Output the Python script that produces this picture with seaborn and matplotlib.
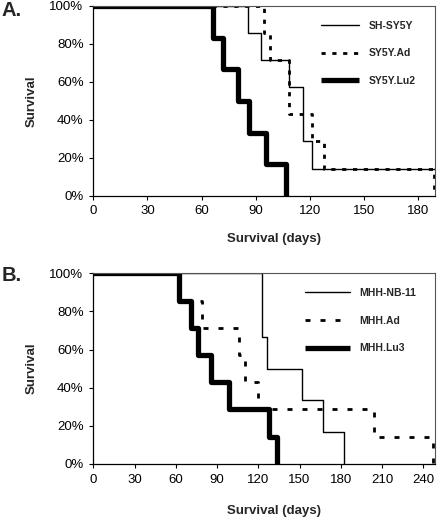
import matplotlib
matplotlib.use('Agg')
import matplotlib.pyplot as plt
import seaborn as sns
import pandas as pd
from matplotlib.ticker import FuncFormatter

sns.set_theme(style='ticks')
plt.rcParams['font.family'] = ['Liberation Sans', 'DejaVu Sans']

# Panel A: Kaplan-Meier steps (days, % surviving); last point = end of follow-up
a_names = ['SH-SY5Y', 'SY5Y.Ad', 'SY5Y.Lu2']
a_days = [
    [0, 85.5, 93, 108.5, 116, 121, 189],
    [0, 94.5, 98, 108.5, 121, 127.5, 188.5],
    [0, 66, 72, 80, 86, 95.5, 106.5],
]
a_surv = [
    [100, 85.7, 71.4, 57.1, 28.6, 14.3, 14.3],
    [100, 85.7, 71.4, 42.9, 28.6, 14.3, 0],
    [100, 83.3, 66.7, 50, 33.3, 16.7, 0],
]

# Panel B
b_names = ['MHH-NB-11', 'MHH.Ad', 'MHH.Lu3']
b_days = [
    [0, 123, 126, 151.5, 167, 182.5],
    [0, 62.5, 79, 106, 110, 120, 204.5, 247],
    [0, 62.5, 71, 76, 85.5, 99, 128, 133.5],
]
b_surv = [
    [100, 66.7, 50, 33.3, 16.7, 0],
    [100, 85.7, 71.4, 57.1, 42.9, 28.6, 14.3, 0],
    [100, 85.7, 71.4, 57.1, 42.9, 28.6, 14.3, 0],
]

a_xticks = [0, 30, 60, 90, 120, 150, 180]
b_xticks = [0, 30, 60, 90, 120, 150, 180, 210, 240]
yticks = [0, 20, 40, 60, 80, 100]

W, H = 438, 517
fig = plt.figure(figsize=(W / 100, H / 100), dpi=100)


def panel(rect, names, days, surv, xlim, xticks, dash, leg_x, hlen, xlab_y, letter, letter_y):
    left, top, right, bottom = rect
    ax = fig.add_axes([left / W, 1 - bottom / H, (right - left) / W, (bottom - top) / H])
    styles = [
        dict(lw=1.0, linestyle='-'),
        dict(lw=2.0, linestyle=(0, dash)),
        dict(lw=3.8, linestyle='-', solid_capstyle='butt'),
    ]
    for name, d, s, st in zip(names, days, surv, styles):
        df = pd.DataFrame({'days': d, 'surv': s})
        sns.lineplot(data=df, x='days', y='surv', ax=ax, drawstyle='steps-post',
                     color='black', label=name, estimator=None, sort=False, **st)
    ax.set_xlim(*xlim)
    ax.set_ylim(0, 100)
    ax.set_xticks(xticks)
    ax.set_yticks(yticks)
    ax.yaxis.set_major_formatter(FuncFormatter(lambda v, p: f'{v:.0f}%'))
    ax.tick_params(direction='out', length=3, width=0.8, pad=4, labelsize=9.5, colors='black')
    for sp in ['left', 'bottom']:
        ax.spines[sp].set_color('black')
        ax.spines[sp].set_linewidth(0.9)
    for sp in ['top', 'right']:
        ax.spines[sp].set_visible(True)
        ax.spines[sp].set_color('#555555')
        ax.spines[sp].set_linewidth(0.8)
    ax.set_xlabel('Survival (days)', fontsize=9.5, fontweight='bold')
    ax.set_ylabel('Survival', fontsize=9.5, fontweight='bold')
    ax.xaxis.set_label_coords(0.529, xlab_y)
    ax.yaxis.set_label_coords(-0.164, 0.5)
    ax.legend(loc='upper left', bbox_to_anchor=(leg_x, 0.95), frameon=False,
              borderpad=0, handlelength=hlen, handletextpad=0.9, labelspacing=1.7,
              prop={'weight': 'bold', 'size': 7.5})
    fig.text(1.5 / W, 1 - letter_y / H, letter, fontsize=14.5, fontweight='bold',
             va='top', ha='left')
    return ax


panel((93.3, 6, 434.7, 195.7), a_names, a_days, a_surv, (0, 189), a_xticks,
      (1.5, 2.4), 0.652, 3.65, -0.195, 'A.', 1)
panel((93.3, 273.3, 434.7, 464), b_names, b_days, b_surv, (0, 248.3), b_xticks,
      (1.8, 3.6), 0.605, 4.3, -0.215, 'B.', 266)

fig.savefig('out.png', dpi=100)
